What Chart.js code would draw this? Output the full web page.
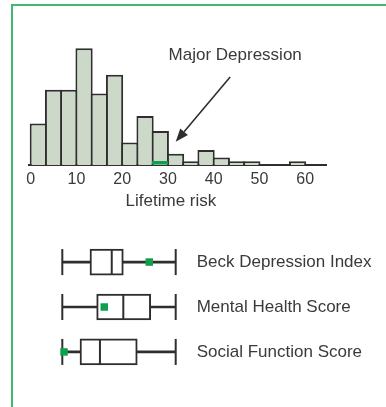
<!DOCTYPE html>
<html>
<head>
<meta charset="utf-8">
<script src="https://cdn.jsdelivr.net/npm/chart.js@4.4.0/dist/chart.umd.min.js"></script>
<style>
  html, body { margin: 0; padding: 0; background: #fff; width: 386px; height: 407px; overflow: hidden; position: relative; }
  #frame { position: absolute; left: 11px; top: 4px; width: 400px; height: 420px;
           border-left: 2px solid #3fb873; border-top: 2px solid #3fb873; }
  #hist { position: absolute; left: 0; top: 0; }
  #boxes { position: absolute; left: 0; top: 220px; }
</style>
</head>
<body>
<div id="frame"></div>
<canvas id="hist" width="386" height="215"></canvas>
<canvas id="boxes" width="386" height="160"></canvas>
<script>
// Histogram: lifetime risk bins (bin centres) and number of studies per bin
const riskBins = [1.667, 5, 8.333, 11.667, 15, 18.333, 21.667, 25, 28.333,
                  31.667, 35, 38.333, 41.667, 45, 48.333, 51.667, 55, 58.333];
const studyCounts = [11, 20, 20, 31, 19, 24, 6, 13, 9, 3, 1, 4, 2, 1, 1, null, null, 1];
const riskTicks = [0, 10, 20, 30, 40, 50, 60];
const riskAxisTitle = 'Lifetime risk';

// Range highlighted on the risk axis and its callout
const majorDepressionRange = [26.5, 30];
const calloutText = 'Major Depression';
const calloutLabelAt = { x: 44.7, y: 29.2 };
const calloutArrowFrom = { x: 43.6, y: 23.4 };
const calloutArrowTo = { x: 31.7, y: 6.2 };

// Box plots (scaled 0-100 between the whisker ends)
const scoreNames = ['Beck Depression Index', 'Mental Health Score', 'Social Function Score'];
const scoreMin = [0, 0, 0];
const scoreQ1 = [24.4, 30.3, 15.6];
const scoreMedian = [43.6, 53.8, 33.2];
const scoreQ3 = [53.8, 78, 66.1];
const scoreMax = [100, 100, 100];
const scoreMarker = [76.7, 37, 1.5];

const ink = '#2e2e2e';
const textInk = '#3a3a3a';
const green = '#0ea04c';
const fontFamily = "'Liberation Sans', Arial, sans-serif";
Chart.defaults.font.family = fontFamily;
Chart.defaults.color = textInk;

const histExtras = {
  id: 'histExtras',
  afterDatasetsDraw(chart) {
    const { ctx, chartArea, scales: { x, y } } = chart;
    ctx.save();
    // highlighted range sitting on the baseline
    const r0 = x.getPixelForValue(majorDepressionRange[0]);
    const r1 = x.getPixelForValue(majorDepressionRange[1]);
    ctx.fillStyle = green;
    ctx.fillRect(r0, chartArea.bottom - 4, r1 - r0, 3.5);

    // callout arrow
    const tx = x.getPixelForValue(calloutArrowFrom.x), ty = y.getPixelForValue(calloutArrowFrom.y);
    const hx = x.getPixelForValue(calloutArrowTo.x), hy = y.getPixelForValue(calloutArrowTo.y);
    const ang = Math.atan2(hy - ty, hx - tx);
    const headLen = 13, headHalf = 5;
    const bx = hx - headLen * Math.cos(ang), by = hy - headLen * Math.sin(ang);
    ctx.strokeStyle = ink;
    ctx.lineWidth = 1.6;
    ctx.beginPath(); ctx.moveTo(tx, ty); ctx.lineTo(bx, by); ctx.stroke();
    ctx.fillStyle = ink;
    ctx.beginPath();
    ctx.moveTo(hx, hy);
    ctx.lineTo(bx + headHalf * Math.sin(ang), by - headHalf * Math.cos(ang));
    ctx.lineTo(bx - headHalf * Math.sin(ang), by + headHalf * Math.cos(ang));
    ctx.closePath(); ctx.fill();

    // callout text and axis title
    ctx.font = '17px ' + fontFamily;
    ctx.fillStyle = textInk;
    ctx.textAlign = 'center';
    ctx.textBaseline = 'middle';
    ctx.fillText(calloutText, x.getPixelForValue(calloutLabelAt.x), y.getPixelForValue(calloutLabelAt.y));
    ctx.fillText(riskAxisTitle, x.getPixelForValue(30) + 3, chartArea.bottom + 36);
    ctx.restore();
  }
};

new Chart(document.getElementById('hist'), {
  type: 'bar',
  data: {
    datasets: [{
      data: riskBins.map((b, i) => ({ x: b, y: studyCounts[i] })),
      backgroundColor: '#ccd8c8',
      borderColor: ink,
      borderWidth: 2,
      inflateAmount: 0,
      barPercentage: 1.131,
      categoryPercentage: 1
    }]
  },
  options: {
    responsive: false,
    animation: false,
    devicePixelRatio: 1,
    layout: { autoPadding: false, padding: { left: 29.3, right: 59.3, top: 14.4, bottom: 0 } },
    plugins: { legend: { display: false }, tooltip: { enabled: false } },
    scales: {
      x: {
        type: 'linear', min: -0.3, max: 64.7, offset: false,
        grid: { display: false, drawTicks: false },
        border: { display: true, color: ink, width: 2 },
        afterBuildTicks: s => { s.ticks = riskTicks.map(v => ({ value: v })); },
        afterFit: s => { s.height = 50; },
        ticks: { padding: 5, font: { size: 16 }, color: textInk, maxRotation: 0, autoSkip: false }
      },
      y: { display: false, min: 0, max: 40 }
    }
  },
  plugins: [histExtras]
});

const rowPoints = vals => scoreNames.map((n, i) => ({ x: vals[i], y: n }));

new Chart(document.getElementById('boxes'), {
  type: 'bar',
  data: {
    labels: scoreNames,
    datasets: [
      { // whiskers
        type: 'bar', data: scoreNames.map((n, i) => [scoreMin[i], scoreMax[i]]),
        backgroundColor: ink, borderWidth: 0, barThickness: 2, grouped: false, order: 4, clip: false
      },
      { // boxes
        type: 'bar', data: scoreNames.map((n, i) => [scoreQ1[i], scoreQ3[i]]),
        backgroundColor: '#ffffff', borderColor: ink, borderWidth: 2, borderSkipped: false,
        barThickness: 26, grouped: false, order: 3, clip: false
      },
      { // whisker caps
        type: 'scatter', data: rowPoints(scoreMin).concat(rowPoints(scoreMax)),
        pointStyle: 'line', pointRotation: 90, pointRadius: 13,
        pointBorderColor: ink, pointBorderWidth: 2, order: 2, clip: false
      },
      { // medians
        type: 'scatter', data: rowPoints(scoreMedian),
        pointStyle: 'line', pointRotation: 90, pointRadius: 12,
        pointBorderColor: ink, pointBorderWidth: 2, order: 1, clip: false
      },
      { // reference markers
        type: 'scatter', data: rowPoints(scoreMarker),
        pointStyle: 'rect', pointRadius: 5.3,
        pointBackgroundColor: green, pointBorderWidth: 0, order: 0, clip: false
      }
    ]
  },
  options: {
    indexAxis: 'y',
    responsive: false,
    animation: false,
    devicePixelRatio: 1,
    layout: { autoPadding: false, padding: { left: 62.3, right: 0, top: 19.6, bottom: 5.6 } },
    plugins: { legend: { display: false }, tooltip: { enabled: false } },
    scales: {
      x: { type: 'linear', display: false, min: 0, max: 100 },
      y: {
        type: 'category', position: 'right', offset: true,
        grid: { display: false, drawTicks: false },
        border: { display: false },
        ticks: { padding: 21, font: { size: 17 }, color: textInk, crossAlign: 'near' },
        afterFit: s => { s.width = 210.3; s.paddingTop = 0; s.paddingBottom = 0; }
      }
    }
  }
});
</script>
</body>
</html>
